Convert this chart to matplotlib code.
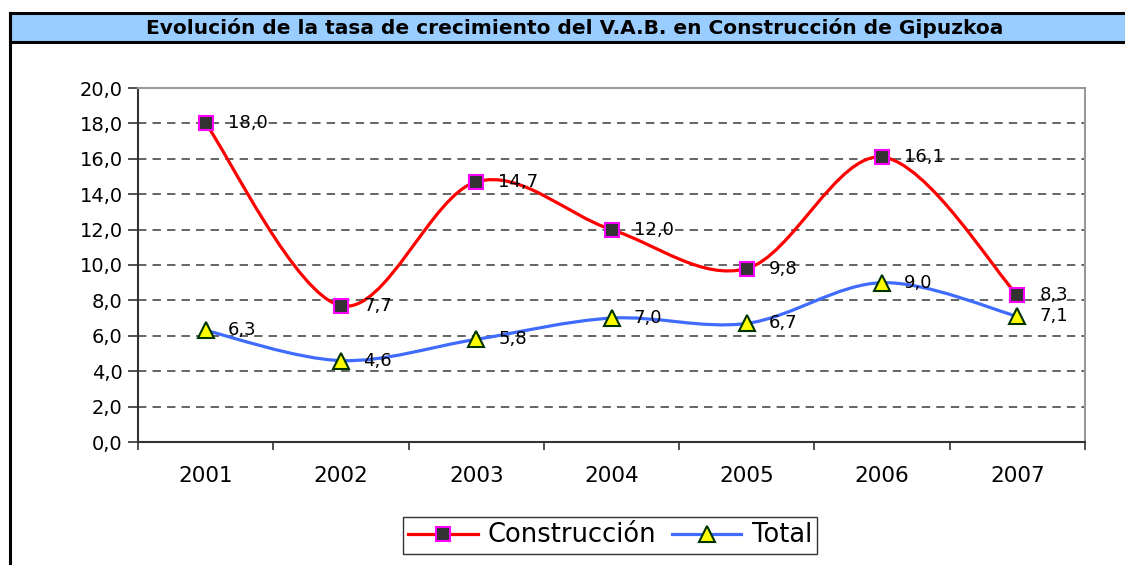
import numpy as np
import matplotlib
matplotlib.use("Agg")
import matplotlib.pyplot as plt
from matplotlib.path import Path
from matplotlib.patches import PathPatch, Rectangle
from matplotlib.lines import Line2D

# =====================================================
# DATA
# =====================================================

years = ["2001", "2002", "2003", "2004", "2005", "2006", "2007"]
construccion = [18.0, 7.7, 14.7, 12.0, 9.8, 16.1, 8.3]
total = [6.3, 4.6, 5.8, 7.0, 6.7, 9.0, 7.1]
y_ticks = [0, 2, 4, 6, 8, 10, 12, 14, 16, 18, 20]

title = "Evolución de la tasa de crecimiento del V.A.B. en Construcción de Gipuzkoa"

plt.rcParams["font.family"] = ["DejaVu Sans"]


def smooth_path(xs, ys):
    # Excel style smoothed line (Catmull-Rom as cubic Bezier)
    pts = np.column_stack([xs, ys]).astype(float)
    n = len(pts)
    verts = [pts[0]]
    codes = [Path.MOVETO]
    for i in range(n - 1):
        p0 = pts[i - 1] if i > 0 else pts[i]
        p1 = pts[i]
        p2 = pts[i + 1]
        p3 = pts[i + 2] if i + 2 < n else pts[i + 1]
        c1 = p1 + (p2 - p0) / 6.0
        c2 = p2 - (p3 - p1) / 6.0
        verts += [c1, c2, p2]
        codes += [Path.CURVE4] * 3
    return Path(verts, codes)


fig = plt.figure(figsize=(11.25, 5.65), dpi=100)
ax = fig.add_axes([138 / 1125, 1 - 442 / 565, (1085 - 138) / 1125, (442 - 88) / 565])

x = np.arange(len(years))

# lines
ax.add_patch(PathPatch(smooth_path(x, construccion), fill=False,
                       edgecolor="#FF0000", linewidth=2.3, zorder=3))
ax.add_patch(PathPatch(smooth_path(x, total), fill=False,
                       edgecolor="#3F6BFF", linewidth=2.3, zorder=3))

# markers
ax.plot(x, construccion, linestyle="none", marker="s", markersize=10.5,
        markerfacecolor="#333333", markeredgecolor="#FF00FF",
        markeredgewidth=1.5, zorder=4)
ax.plot(x, total, linestyle="none", marker="^", markersize=11.5,
        markerfacecolor="#FFFF00", markeredgecolor="#003300",
        markeredgewidth=1.5, zorder=4)

# data labels
for xi, v in zip(x, construccion):
    ax.annotate(f"{v:.1f}".replace(".", ","), (xi, v), xytext=(16, 0),
                textcoords="offset points", ha="left", va="center",
                fontsize=13, zorder=5)
for xi, v in zip(x, total):
    ax.annotate(f"{v:.1f}".replace(".", ","), (xi, v), xytext=(16, 0),
                textcoords="offset points", ha="left", va="center",
                fontsize=13, zorder=5)

# axes
ax.set_xlim(-0.5, len(years) - 0.5)
ax.set_ylim(0, 20)
ax.set_yticks(y_ticks)
ax.set_yticklabels([f"{t:.1f}".replace(".", ",") for t in y_ticks], fontsize=14)
ax.tick_params(axis="y", direction="out", length=7, width=1.2, color="#333333", pad=4)

ax.set_xticks(np.arange(-0.5, len(years)), minor=False)
ax.set_xticklabels([])
ax.set_xticks(x, minor=True)
ax.set_xticklabels(years, minor=True, fontsize=15.5)
ax.tick_params(axis="x", which="major", direction="out", length=6, width=1.2, color="#333333")
ax.tick_params(axis="x", which="minor", length=0, pad=17)

for yv in y_ticks[1:-1]:
    ax.axhline(yv, color="#3a3a3a", linewidth=1.1, dashes=(5.5, 4), zorder=1)

ax.spines["left"].set_color("#333333")
ax.spines["bottom"].set_color("#333333")
ax.spines["left"].set_linewidth(1.5)
ax.spines["bottom"].set_linewidth(1.5)
ax.spines["top"].set_color("#999999")
ax.spines["right"].set_color("#999999")
ax.spines["top"].set_linewidth(1.5)
ax.spines["right"].set_linewidth(1.5)

# legend
handles = [
    Line2D([], [], color="#FF0000", linewidth=2.3, marker="s", markersize=10.5,
           markerfacecolor="#333333", markeredgecolor="#FF00FF", markeredgewidth=1.5),
    Line2D([], [], color="#3F6BFF", linewidth=2.3, marker="^", markersize=11.5,
           markerfacecolor="#FFFF00", markeredgecolor="#003300", markeredgewidth=1.5),
]
leg = fig.legend(handles, ["Construcción", "Total"], loc="center",
                 bbox_to_anchor=(610 / 1125, 1 - 535.5 / 565), ncol=2,
                 fontsize=18.5, frameon=True, fancybox=False, handlelength=2.7,
                 columnspacing=0.6, handletextpad=0.4, borderpad=0.2,
                 borderaxespad=0)
leg.get_frame().set_edgecolor("black")
leg.get_frame().set_linewidth(1.0)

# frame and title band
fig.add_artist(Rectangle((10 / 1125, 1 - 42 / 565), 1.2, 29 / 565,
                         transform=fig.transFigure, facecolor="#99CCFF",
                         edgecolor="black", linewidth=2.2, clip_on=False, zorder=0))
fig.add_artist(Line2D([10 / 1125, 10 / 1125], [0, 1 - 13 / 565],
                      transform=fig.transFigure, color="black", linewidth=2.2))
fig.text(575 / 1125, 1 - 27.5 / 565, title, ha="center", va="center",
         fontsize=14.5, fontweight="bold")

fig.savefig("out.png", dpi=100)
